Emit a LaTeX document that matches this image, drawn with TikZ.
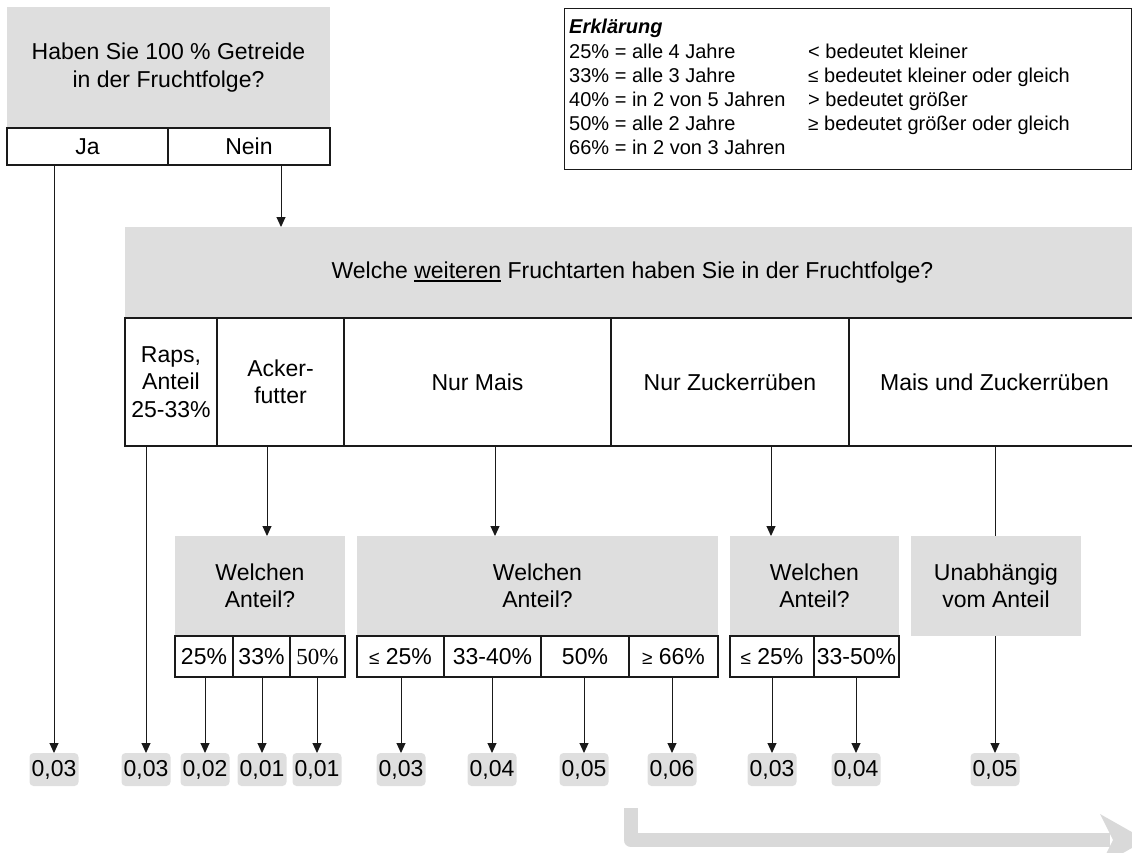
\documentclass[tikz,border=0pt]{standalone}
\usepackage{fontspec}
\setmainfont{Liberation Sans}
\newfontfamily\seriffont{Liberation Serif}
\usetikzlibrary{arrows.meta,calc}

\definecolor{panel}{HTML}{DEDEDE}
\definecolor{chip}{HTML}{DFDFDF}
\definecolor{flow}{HTML}{D9D9D9}
\definecolor{ink}{HTML}{1A1A1A}

\newcommand\mainsize{\fontsize{23}{27.5}\selectfont}
\newcommand\legsize{\fontsize{20}{24}\selectfont}
\newcommand\relsym[1]{{\fontsize{19}{19}\selectfont #1}}
\newcommand\lineunder[1]{\setbox0\hbox{#1}\rlap{\rule[-3.5pt]{\wd0}{1.5pt}}\box0\relax}

\tikzset{
  sized/.style 2 args={minimum width=#1pt, minimum height=#2pt},
  base/.style={inner sep=0pt, outer sep=0pt, anchor=north west, font=\mainsize, align=center},
  question/.style={base, fill=panel},
  cell/.style={base, draw=ink, line width=1.1pt, fill=white},
  value/.style={fill=chip, rounded corners=4pt, inner sep=0pt, outer sep=0pt,
                minimum width=49pt, minimum height=33pt, font=\mainsize, anchor=north},
  link/.style={draw=ink, line width=1pt, -{Triangle[length=10pt,width=9pt]}},
  plain/.style={draw=ink, line width=1pt},
  legtext/.style={anchor=base west, inner sep=0pt, font=\legsize},
}

\begin{document}
\begin{tikzpicture}[x=1pt, y=-1pt]
\clip (0,0) rectangle (1132,852);

% first question
\node[question, sized={323}{121}] (q1) at (7,7) {Haben Sie 100 \% Getreide\\in der Fruchtfolge?};
\node[cell, sized={161}{37}] (ja)   at (7,128)   {Ja};
\node[cell, sized={162}{37}] (nein) at (168,128) {Nein};

% legend
\node[base, draw=ink, line width=1pt, fill=white, sized={567}{161}] (legend) at (564,8) {};
\node[legtext] (lg0) at (569,33)  {\textbf{\textit{Erklärung}}};
\node[legtext] (lg1) at (569,58)  {25\% = alle 4 Jahre};
\node[legtext] (lg2) at (569,82)  {33\% = alle 3 Jahre};
\node[legtext] (lg3) at (569,106) {40\% = in 2 von 5 Jahren};
\node[legtext] (lg4) at (569,130) {50\% = alle 2 Jahre};
\node[legtext] (lg5) at (569,154) {66\% = in 2 von 3 Jahren};
\node[legtext] (lr1) at (808,58)  {< bedeutet kleiner};
\node[legtext] (lr2) at (808,82)  {\relsym{≤} bedeutet kleiner oder gleich};
\node[legtext] (lr3) at (808,106) {> bedeutet größer};
\node[legtext] (lr4) at (808,130) {\relsym{≥} bedeutet größer oder gleich};

% second question
\node[question, sized={1015}{91}] (q2) at (125,227) {Welche \lineunder{weiteren} Fruchtarten haben Sie in der Fruchtfolge?};
\node[cell, sized={92}{128}]  (raps)   at (125,318) {Raps,\\Anteil\\25-33\%};
\node[cell, sized={127}{128}] (acker)  at (217,318) {Acker-\\futter};
\node[cell, sized={267}{128}] (mais)   at (344,318) {Nur Mais};
\node[cell, sized={238}{128}] (zucker) at (611,318) {Nur Zuckerrüben};
\node[cell, sized={291}{128}] (beide)  at (849,318) {Mais und Zuckerrüben};

% share questions
\node[question, sized={170}{100}] (qa) at (175,536) {Welchen\\Anteil?};
\node[cell, sized={58}{41}] (a1) at (175,636) {25\%};
\node[cell, sized={57}{41}] (a2) at (233,636) {33\%};
\node[cell, sized={55}{41}] (a3) at (290,636) {\seriffont 50\%};

\node[question, sized={361}{100}] (qb) at (357,536) {Welchen\\Anteil?};
\node[cell, sized={87}{41}] (b1) at (357,636) {\relsym{≤} 25\%};
\node[cell, sized={97}{41}] (b2) at (444,636) {33-40\%};
\node[cell, sized={88}{41}] (b3) at (541,636) {50\%};
\node[cell, sized={89}{41}] (b4) at (629,636) {\relsym{≥} 66\%};

\node[question, sized={169}{100}] (qc) at (730,536) {Welchen\\Anteil?};
\node[cell, sized={84}{41}] (c1) at (730,636) {\relsym{≤} 25\%};
\node[cell, sized={85}{41}] (c2) at (814,636) {33-50\%};

\node[question, sized={170}{100}] (qd) at (911,536) {Unabhängig\\vom Anteil};

% resulting values
\node[value] (v1)  at (54,753)  {0,03};
\node[value] (v2)  at (146,753) {0,03};
\node[value] (v3)  at (205,753) {0,02};
\node[value] (v4)  at (262,753) {0,01};
\node[value] (v5)  at (317,753) {0,01};
\node[value] (v6)  at (401,753) {0,03};
\node[value] (v7)  at (492,753) {0,04};
\node[value] (v8)  at (584,753) {0,05};
\node[value] (v9)  at (672,753) {0,06};
\node[value] (v10) at (772,753) {0,03};
\node[value] (v11) at (856,753) {0,04};
\node[value] (v12) at (995,753) {0,05};

% entry points on the question boxes
\coordinate (q2in) at ($(q2.north west)+(156,0)$);
\coordinate (qain) at ($(qa.north west)+(92,0)$);
\coordinate (qbin) at ($(qb.north west)+(138,0)$);
\coordinate (qcin) at ($(qc.north west)+(41,0)$);
\coordinate (qdin) at ($(qd.north west)+(84,0)$);

% connectors
\draw[link] (ja.south -| v1) -- (v1.north);
\draw[link] (nein.south -| q2in) -- (q2in);
\draw[link] (raps.south -| v2) -- (v2.north);
\draw[link] (acker.south -| qain) -- (qain);
\draw[link] (mais.south -| qbin) -- (qbin);
\draw[link] (zucker.south -| qcin) -- (qcin);
\draw[plain] (beide.south -| qdin) -- (qdin);

\draw[link] (a1.south -| v3) -- (v3.north);
\draw[link] (a2.south -| v4) -- (v4.north);
\draw[link] (a3.south -| v5) -- (v5.north);
\draw[link] (b1.south -| v6) -- (v6.north);
\draw[link] (b2.south -| v7) -- (v7.north);
\draw[link] (b3.south -| v8) -- (v8.north);
\draw[link] (b4.south -| v9) -- (v9.north);
\draw[link] (c1.south -| v10) -- (v10.north);
\draw[link] (c2.south -| v11) -- (v11.north);
\draw[link] (qd.south -| v12) -- (v12.north);

% direction arrow at the bottom
\draw[flow, line width=14pt, line join=round] (630.5,808) -- (630.5,840) -- (1110,840);
\fill[flow] (1100,814) -- (1146,840) -- (1100,866) -- (1113,840) -- cycle;
\end{tikzpicture}
\end{document}
